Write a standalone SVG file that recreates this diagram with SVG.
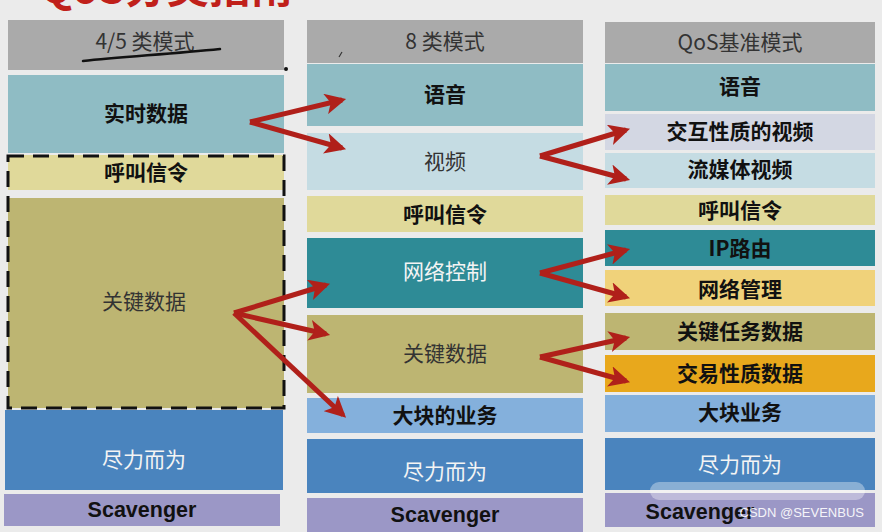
<svg xmlns="http://www.w3.org/2000/svg" width="882" height="532" viewBox="0 0 882 532">
<defs>
<style>
.t{font-family:"Noto Sans CJK SC","Liberation Sans",sans-serif;font-size:21px;text-anchor:middle;dominant-baseline:central}
.b{font-weight:bold;fill:#111}
.n{fill:#333}
.w{fill:#f4f4f4}
.s{font-family:"Liberation Sans",Arial,sans-serif;font-weight:bold;font-size:21.5px;fill:#111;text-anchor:middle;dominant-baseline:central}
.h{fill:#aaaaaa}
.c1{fill:#8fbcc4}.c2{fill:#c5dce3}.c3{fill:#e0d99a}.c4{fill:#2e8b96}.c5{fill:#bdb572}
.c6{fill:#84b0dc}.c7{fill:#4a84be}.c8{fill:#9b97c6}.c9{fill:#d3d7e3}.c10{fill:#f0d27a}.c11{fill:#e8a81c}
.a{stroke:#b0201a;stroke-width:5;fill:none;marker-end:url(#ah)}
</style>
<marker id="ah" viewBox="0 0 10 10" refX="8" refY="5" markerWidth="4.2" markerHeight="4.2" orient="auto" markerUnits="strokeWidth">
<path d="M0,0 L10,5 L0,10 L2.5,5 Z" fill="#b0201a"/>
</marker>
</defs>
<rect width="882" height="532" fill="#ebebeb"/>
<text x="40" y="3" font-family="Noto Sans CJK SC,Liberation Sans,sans-serif" font-size="42" font-weight="bold" fill="#c0201a">QoS分类指南</text>

<g id="col1">
<g id="h1"><rect class="h" x="8" y="20" width="276" height="50"/><text class="t n" x="145" y="40" fill="#222">4/5 类模式</text></g>
<g id="n1a"><rect class="c1" x="8" y="75" width="276" height="78"/><text class="t b" x="146" y="112">实时数据</text></g>
<g id="n1b"><rect class="c3" x="8" y="155" width="276" height="35"/><text class="t b" x="146" y="171">呼叫信令</text></g>
<g id="n1c"><rect class="c5" x="8" y="198" width="276" height="210"/><text class="t n" x="144" y="300">关键数据</text></g>
<rect x="8" y="156" width="276" height="252" fill="none" stroke="#111" stroke-width="3" stroke-dasharray="16,9"/>
<g id="n1d"><rect class="c7" x="5" y="410" width="278" height="80"/><text class="t w" x="144" y="458">尽力而为</text></g>
<g id="n1e"><rect class="c8" x="4" y="494" width="276" height="32"/><text class="s" x="142" y="510">Scavenger</text></g>
</g>

<g id="col2">
<g id="h2"><rect class="h" x="307" y="20" width="276" height="43"/><text class="t n" x="445" y="40" fill="#222">8 类模式</text></g>
<g id="n2a"><rect class="c1" x="307" y="64" width="276" height="62"/><text class="t b" x="445" y="93">语音</text></g>
<g id="n2b"><rect class="c2" x="307" y="133" width="276" height="57"/><text class="t n" x="445" y="160" fill="#555">视频</text></g>
<g id="n2c"><rect class="c3" x="307" y="196" width="276" height="36"/><text class="t b" x="445" y="213">呼叫信令</text></g>
<g id="n2d"><rect class="c4" x="307" y="238" width="276" height="70"/><text class="t w" x="445" y="270">网络控制</text></g>
<g id="n2e"><rect class="c5" x="307" y="315" width="276" height="78"/><text class="t n" x="445" y="352">关键数据</text></g>
<g id="n2f"><rect class="c6" x="307" y="398" width="276" height="35"/><text class="t b" x="445" y="414">大块的业务</text></g>
<g id="n2g"><rect class="c7" x="307" y="439" width="276" height="54"/><text class="t w" x="445" y="470">尽力而为</text></g>
<g id="n2h"><rect class="c8" x="307" y="498" width="276" height="34"/><text class="s" x="445" y="515">Scavenger</text></g>
</g>

<g id="col3">
<g id="h3"><rect class="h" x="605" y="22" width="270" height="41"/><text class="t n" x="740" y="41" fill="#222">QoS基准模式</text></g>
<g id="n3a"><rect class="c1" x="605" y="64" width="270" height="47"/><text class="t b" x="740" y="85">语音</text></g>
<g id="n3b"><rect class="c9" x="605" y="114" width="270" height="36"/><text class="t b" x="740" y="130">交互性质的视频</text></g>
<g id="n3c"><rect class="c2" x="605" y="153" width="270" height="35"/><text class="t b" x="740" y="168">流媒体视频</text></g>
<g id="n3d"><rect class="c3" x="605" y="195" width="270" height="30"/><text class="t b" x="740" y="209">呼叫信令</text></g>
<g id="n3e"><rect class="c4" x="605" y="230" width="270" height="36"/><text class="t b" x="740" y="247" fill="#f4f4f4">IP路由</text></g>
<g id="n3f"><rect class="c10" x="605" y="270" width="270" height="36"/><text class="t b" x="740" y="288">网络管理</text></g>
<g id="n3g"><rect class="c5" x="605" y="313" width="270" height="37"/><text class="t b" x="740" y="330">关键任务数据</text></g>
<g id="n3h"><rect class="c11" x="605" y="355" width="270" height="37"/><text class="t b" x="740" y="372">交易性质数据</text></g>
<g id="n3i"><rect class="c6" x="605" y="395" width="270" height="37"/><text class="t b" x="740" y="411">大块业务</text></g>
<g id="n3j"><rect class="c7" x="605" y="438" width="270" height="52"/><text class="t w" x="740" y="463">尽力而为</text></g>
<g id="n3k"><rect class="c8" x="605" y="493" width="270" height="34"/><text class="s" x="700" y="512">Scavenger</text></g>
</g>

<path d="M83,61 C120,57 170,54 220,49" stroke="#111" stroke-width="2.5" fill="none" stroke-linecap="round"/>
<circle cx="286" cy="69" r="2" fill="#111"/>
<path d="M339,57 L342,52" stroke="#333" stroke-width="1.2"/>

<g id="connectors">
<path class="a" d="M250,122 L342,100"/>
<path class="a" d="M250,122 L342,148"/>
<path class="a" d="M540,156 L626,130"/>
<path class="a" d="M540,156 L626,179"/>
<path class="a" d="M234,313 L326,285"/>
<path class="a" d="M234,313 L326,334"/>
<path class="a" d="M234,313 L343,415"/>
<path class="a" d="M540,273 L626,250"/>
<path class="a" d="M540,273 L626,297"/>
<path class="a" d="M540,357 L626,338"/>
<path class="a" d="M540,357 L626,381"/>
</g>
<rect x="650" y="482" width="215" height="18" rx="9" fill="#ffffff" opacity="0.35"/>
<text x="864" y="517" font-family="Liberation Sans,Arial,sans-serif" font-size="13" fill="#ffffff" text-anchor="end" opacity="0.9">CSDN @SEVENBUS</text>
</svg>
